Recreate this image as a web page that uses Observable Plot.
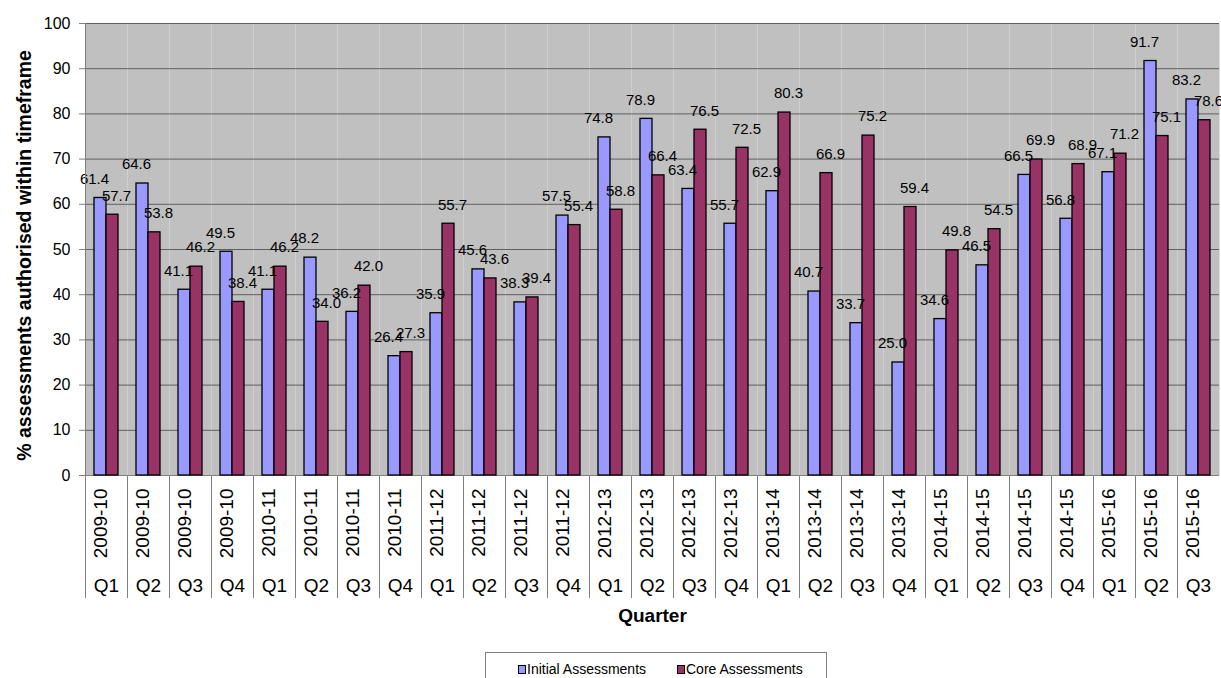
<!DOCTYPE html>
<html><head><meta charset="utf-8">
<script src="https://cdn.jsdelivr.net/npm/d3@7"></script>
<script src="https://cdn.jsdelivr.net/npm/@observablehq/plot@0.6"></script>
<style>
body{margin:0;background:#fff;font-family:Arial,"Liberation Sans",sans-serif;overflow:hidden;}
#chart{position:absolute;left:0;top:0;}
g[aria-label="fx-axis label"] text{font-weight:bold;}
#legend{position:absolute;left:485px;top:652px;width:342px;height:40px;border:1px solid #808080;box-sizing:border-box;background:#fff;font-size:14px;color:#000;}
#legend .item{position:absolute;top:8px;line-height:16px;white-space:nowrap;}
#legend .sw{display:inline-block;width:6px;height:7px;border:1px solid #000;margin-right:1px;vertical-align:0px;}
</style></head><body>
<div id="chart"></div>
<div id="legend"></div>
<script>
const years = ["2009-10","2009-10","2009-10","2009-10","2010-11","2010-11","2010-11","2010-11","2011-12","2011-12","2011-12","2011-12","2012-13","2012-13","2012-13","2012-13","2013-14","2013-14","2013-14","2013-14","2014-15","2014-15","2014-15","2014-15","2015-16","2015-16","2015-16"];
const quarters = ["Q1","Q2","Q3","Q4","Q1","Q2","Q3","Q4","Q1","Q2","Q3","Q4","Q1","Q2","Q3","Q4","Q1","Q2","Q3","Q4","Q1","Q2","Q3","Q4","Q1","Q2","Q3"];
const initial = [61.4,64.6,41.1,49.5,41.1,48.2,36.2,26.4,35.9,45.6,38.3,57.5,74.8,78.9,63.4,55.7,62.9,40.7,33.7,25.0,34.6,46.5,66.5,56.8,67.1,91.7,83.2];
const core = [57.7,53.8,46.2,38.4,46.2,34.0,42.0,27.3,55.7,43.6,39.4,55.4,58.8,66.4,76.5,72.5,80.3,66.9,75.2,59.4,49.8,54.5,69.9,68.9,71.2,75.1,78.6];
const series = ["Initial Assessments","Core Assessments"];
const colors = ["#9999FF","#993366"];
const yTicks = [0,10,20,30,40,50,60,70,80,90,100];
const yLabel = "% assessments authorised within timeframe";
const xLabel = "Quarter";

const keys = years.map((y,i)=>y+" "+quarters[i]);
const qOf = Object.fromEntries(keys.map((k,i)=>[k,quarters[i]]));
const cats = keys.map((k,i)=>({key:k, year:years[i], q:quarters[i]}));
const rowsI = keys.map((k,i)=>({key:k, series:series[0], value:initial[i]}));
const rowsC = keys.map((k,i)=>({key:k, series:series[1], value:core[i]}));
const rows = rowsI.concat(rowsC);

const chart = Plot.plot({
  width:1221, height:640,
  marginLeft:83, marginRight:0, marginTop:23, marginBottom:165,
  style:{fontFamily:'Arial, "Liberation Sans", sans-serif', background:"#fff", color:"#000", overflow:"visible"},
  fx:{domain:keys, padding:0},
  x:{domain:series, paddingInner:0, paddingOuter:0.75, axis:null},
  y:{domain:[0,100]},
  color:{domain:series, range:colors},
  marks:[
    Plot.frame({fill:"#C0C0C0"}),
    Plot.gridY(yTicks, {stroke:"#5f5f5f", strokeOpacity:1, strokeWidth:1}),
    Plot.ruleY([0], {stroke:"#808080"}),
    Plot.barY(rows, {fx:"key", x:"series", y:"value", fill:"series", stroke:"#000", strokeWidth:1.3}),
    Plot.text(rowsI, {fx:"key", x:"series", y:"value", text:d=>d.value.toFixed(1), dy:-19, dx:-6, fontSize:15, fill:"#000"}),
    Plot.text(rowsC, {fx:"key", x:"series", y:"value", text:d=>d.value.toFixed(1), dy:-19, dx:4, fontSize:15, fill:"#000"}),
    Plot.axisY(yTicks, {tickSize:6, tickPadding:9, fontSize:16, label:null, stroke:"#808080", fill:"#000"}),
    Plot.frame({anchor:"left", stroke:"#808080", facetAnchor:"left"}),
    Plot.frame({anchor:"left", stroke:"#808080", insetTop:452, insetBottom:-122}),
    Plot.text(cats, {fx:"key", text:"year", frameAnchor:"bottom", rotate:-90, textAnchor:"end", dy:13, fontSize:19, fill:"#000"}),
    Plot.axisFx({anchor:"bottom", tickSize:0, tickPadding:103, fontSize:19, tickFormat:k=>qOf[k], label:xLabel, labelAnchor:"center", labelOffset:146, fill:"#000"}),
    Plot.text([yLabel], {frameAnchor:"left", facetAnchor:"left", rotate:-90, textAnchor:"middle", dx:-61, dy:6, fontSize:19.5, fontWeight:"bold", fill:"#000"})
  ]
});
document.getElementById("chart").append(chart);

const lg = document.getElementById("legend");
const lefts = [32, 191];
series.forEach((s,i)=>{
  const it = document.createElement("span");
  it.className = "item";
  it.style.left = lefts[i]+"px";
  it.innerHTML = '<span class="sw" style="background:'+colors[i]+'"></span>'+s;
  lg.append(it);
});
</script>
</body></html>
